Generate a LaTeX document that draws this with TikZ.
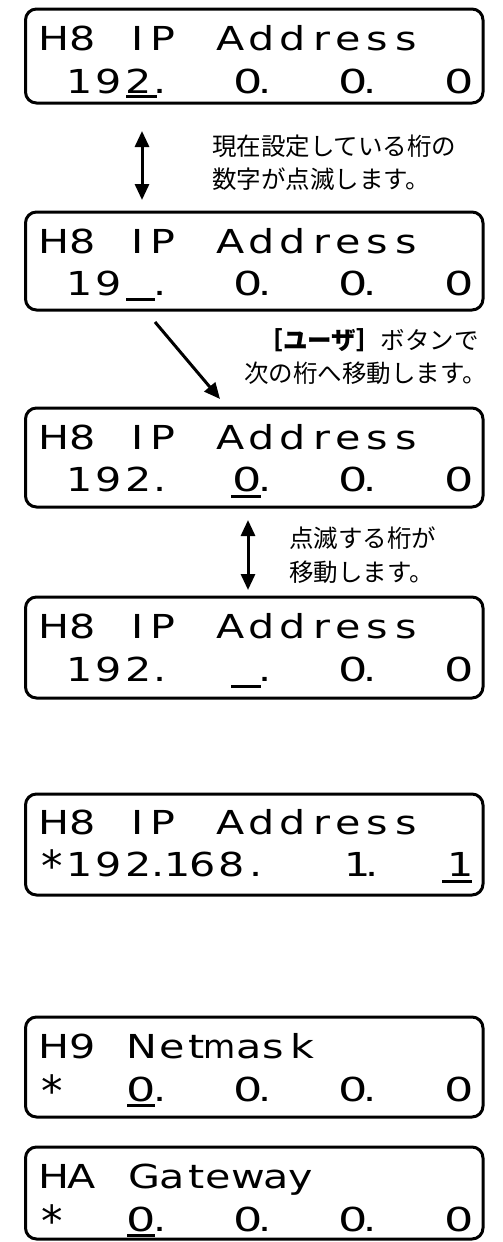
\documentclass[tikz,border=0pt]{standalone}
\usepackage{fontspec}
\usepackage{graphicx}
\usetikzlibrary{arrows.meta}
\newfontfamily\lcdfont{DejaVu Sans}
\newfontfamily\jpfont{Noto Sans CJK JP}
\newcommand\lcdrow[3]{\foreach \xx/\cc [count=\ii] in {#3} {\node[lcdch] (#1\ii) at (\xx,#2) {\scalebox{1.25}[1]{\cc}};}}
\newcommand\zr{\scalebox{1.12}[1]{0}}
\tikzset{
  lcdbox/.style={draw, line width=3pt, rounded corners=11pt, minimum width=457.5pt, inner sep=0pt},
  lcdch/.style={anchor=base, inner sep=0pt, font=\lcdfont\fontsize{33}{33}\selectfont},
  lcdast/.style={inner sep=0pt, font=\lcdfont\fontsize{33}{33}\selectfont},
  ul/.style={line width=3pt},
  note/.style={inner sep=0pt, font=\jpfont\fontsize{24.5}{26}\selectfont},
  arr/.style={line width=3pt, -{Triangle[length=16pt,width=14pt]}},
  dbl/.style={line width=3pt, {Triangle[length=16pt,width=14pt]}-{Triangle[length=16pt,width=14pt]}}
}
\begin{document}
\begin{tikzpicture}[x=1pt,y=-1pt]
\useasboundingbox (0,0) rectangle (503,1242);
% boxes
\node[lcdbox, minimum height=94pt] (box1) at (254.25,56) {};
\node[lcdbox, minimum height=98pt] (box2) at (254.25,261) {};
\node[lcdbox, minimum height=99pt] (box3) at (254.25,457.5) {};
\node[lcdbox, minimum height=101pt] (box4) at (254.25,647.5) {};
\node[lcdbox, minimum height=101pt] (box5) at (254.25,844.5) {};
\node[lcdbox, minimum height=100pt] (box6) at (254.25,1067) {};
\node[lcdbox, minimum height=92pt] (box7) at (254.25,1193) {};
% box 1
\lcdrow{ba}{50}{54/H,83/8,138/I,163/P,231/A,262/d,293/d,322/r,348/e,377/s,406/s}
\lcdrow{bb}{93}{80/1,109/9,139/2,160/.,248/\zr,265/.,353/\zr,370/.,459/\zr}
\draw[ul] (126,96) -- (157,96);
% box 2
\lcdrow{ca}{253}{54/H,83/8,138/I,163/P,231/A,262/d,293/d,322/r,348/e,377/s,406/s}
\lcdrow{cb}{295}{80/1,109/9,160/.,248/\zr,265/.,353/\zr,370/.,459/\zr}
\draw[ul] (126,299) -- (155,299);
% box 3
\lcdrow{da}{449}{54/H,83/8,138/I,163/P,231/A,262/d,293/d,322/r,348/e,377/s,406/s}
\lcdrow{db}{491}{80/1,109/9,139/2,160/.,247/\zr,265/.,353/\zr,370/.,459/\zr}
\draw[ul] (231,496) -- (261,496);
% box 4
\lcdrow{ea}{638}{54/H,83/8,138/I,163/P,231/A,262/d,293/d,322/r,348/e,377/s,406/s}
\lcdrow{eb}{681}{80/1,109/9,139/2,160/.,265/.,353/\zr,370/.,459/\zr}
\draw[ul] (231,686) -- (261,686);
% box 5
\lcdrow{fa}{834}{54/H,83/8,138/I,163/P,231/A,262/d,293/d,322/r,348/e,377/s,406/s}
\node[lcdast] (fs) at (52,866) {\scalebox{1.3}{*}};
\lcdrow{fb}{876}{80/1,109/9,139/2,158/.,178/1,203/6,232/8,256/.,358/1,372/.,461/1}
\draw[ul] (442,881) -- (472,881);
% box 6
\lcdrow{ga}{1058}{54/H,83/9,142/N,172/e,197/t,220/{\scalebox{0.8}[1]{m}},249/a,273/s,302/k}
\node[lcdast] (gs) at (52,1091) {\scalebox{1.3}{*}};
\lcdrow{gb}{1101}{141/\zr,160/.,248/\zr,265/.,353/\zr,370/.,459/\zr}
\draw[ul] (127,1105) -- (155,1105);
% box 7
\lcdrow{ha}{1188}{54/H,82/A,144/G,172/a,197/t,218/e,248/w,276/a,301/y}
\node[lcdast] (hs) at (52,1221) {\scalebox{1.3}{*}};
\lcdrow{hb}{1231}{141/\zr,160/.,248/\zr,265/.,353/\zr,370/.,459/\zr}
\draw[ul] (127,1235) -- (155,1235);
% annotations
\node[note, anchor=west] (n1a) at (212,146) {現在設定している桁の};
\node[note, anchor=west] (n1b) at (212,179) {数字が点滅します。};
\node[note, anchor=east] (n2a) at (479,340) {\textbf{［ユーザ］}ボタンで};
\node[note, anchor=west] (n2b) at (244,373) {次の桁へ移動します。};
\node[note, anchor=west] (n3a) at (289,538) {点滅する桁が};
\node[note, anchor=west] (n3b) at (289,572) {移動します。};
% arrows
\coordinate (a1t) at (142,131);
\coordinate (a1b) at (142,200);
\coordinate (a2s) at (155,322);
\coordinate (a2e) at (220,399);
\coordinate (a3t) at (248,520);
\coordinate (a3b) at (248,590);
\draw[dbl] (a1t) -- (a1b);
\draw[arr] (a2s) -- (a2e);
\draw[dbl] (a3t) -- (a3b);
\end{tikzpicture}
\end{document}
